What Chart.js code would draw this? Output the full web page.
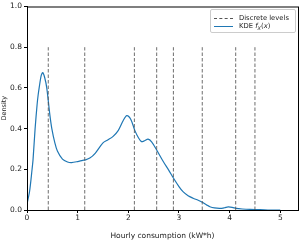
<!DOCTYPE html>
<html>
<head>
<meta charset="utf-8">
<script src="https://cdn.jsdelivr.net/npm/chart.js@4.4.1/dist/chart.umd.min.js"></script>
<style>
  html, body { margin: 0; padding: 0; background: #fff; }
  #wrap { position: relative; width: 299px; height: 241px; }
  #legend {
    position: absolute; left: 210px; top: 9px; width: 84px; height: 22px;
    border: 1px solid #ccc; border-radius: 2px; background: rgba(255,255,255,0.8);
    font-family: 'DejaVu Sans', sans-serif; font-size: 6.8px; color: #222;
  }
  .row { position: absolute; left: 3px; height: 8px; line-height: 8px; white-space: nowrap; }
  .sw { display: inline-block; width: 19px; height: 0; vertical-align: middle; margin-right: 6px; }
</style>
</head>
<body>
<div id="wrap">
  <canvas id="chart" width="299" height="241"></canvas>
  <div id="legend">
    <div class="row" style="top:4px"><span class="sw" style="border-top:1px dashed #555"></span>Discrete levels</div>
    <div class="row" style="top:12px"><span class="sw" style="border-top:1.3px solid #1f77b4"></span>KDE <i>f</i><sub style="font-size:5px"><i>X</i></sub>(<i>x</i>)</div>
  </div>
</div>
<script>
// KDE curve
const kdeX = [0, 0.05, 0.1, 0.12, 0.16, 0.2, 0.22, 0.24, 0.28, 0.31, 0.35, 0.39, 0.45, 0.49, 0.55, 0.6, 0.7,
  0.8, 0.88, 1.0, 1.1, 1.15, 1.24, 1.35, 1.5, 1.6, 1.7, 1.8, 1.9, 1.97, 2.05, 2.13, 2.2, 2.26, 2.32,
  2.39, 2.46, 2.56, 2.69, 2.8, 2.89, 3.0, 3.08, 3.18, 3.28, 3.38, 3.46, 3.55, 3.61, 3.7, 3.81, 3.9,
  3.97, 4.05, 4.13, 4.25, 4.4, 4.6, 4.8, 5.0];
const kdeY = [0.03, 0.09, 0.2, 0.25, 0.4, 0.52, 0.565, 0.6, 0.66, 0.675, 0.65, 0.6, 0.47, 0.4, 0.33, 0.29, 0.25,
  0.236, 0.233, 0.238, 0.244, 0.246, 0.255, 0.28, 0.33, 0.345, 0.362, 0.39, 0.44, 0.464, 0.445, 0.39, 0.355, 0.336, 0.34,
  0.348, 0.335, 0.295, 0.238, 0.195, 0.157, 0.115, 0.09, 0.07, 0.058, 0.048, 0.038, 0.024, 0.016, 0.01, 0.008, 0.011,
  0.015, 0.013, 0.008, 0.005, 0.003, 0.002, 0.0, 0.0];

// discrete levels (vertical dashed lines)
const levels = [0.42, 1.14, 2.12, 2.56, 2.89, 3.46, 4.12, 4.5];
const levelTop = 0.8;

const xTicks = [0, 1, 2, 3, 4, 5];
const yTicks = [0, 0.2, 0.4, 0.6, 0.8, 1.0];

const FONT = "'DejaVu Sans', sans-serif";

const datasets = levels.map(v => ({
  data: [{ x: v, y: 0 }, { x: v, y: levelTop }],
  borderColor: 'rgba(85,85,85,0.85)',
  borderWidth: 1,
  borderDash: [3.5, 2],
  pointRadius: 0,
  fill: false
}));

datasets.push({
  data: kdeX.map((x, i) => ({ x: x, y: kdeY[i] })),
  borderColor: '#1f77b4',
  borderWidth: 1.2,
  pointRadius: 0,
  tension: 0.3,
  fill: false
});

// frame around the plot area like matplotlib spines
const frame = {
  id: 'frame',
  afterDatasetsDraw(chart) {
    const { ctx, chartArea: a } = chart;
    ctx.save();
    ctx.strokeStyle = '#000';
    ctx.lineWidth = 1;
    ctx.strokeRect(a.left + 0.5, a.top + 0.5, a.right - a.left, a.bottom - a.top);
    ctx.restore();
  }
};

new Chart(document.getElementById('chart'), {
  type: 'line',
  data: { datasets: datasets },
  plugins: [frame],
  options: {
    responsive: false,
    animation: false,
    layout: { padding: { top: 6, right: 1, left: 0, bottom: 0 } },
    plugins: { legend: { display: false }, tooltip: { enabled: false } },
    scales: {
      x: {
        type: 'linear', min: 0, max: 5.35,
        afterBuildTicks: s => { s.ticks = xTicks.map(v => ({ value: v })); },
        afterFit: s => { s.height = 31; },
        grid: { drawOnChartArea: false, drawTicks: true, tickLength: 3, color: '#000' },
        border: { display: true, color: '#000' },
        ticks: { color: '#222', padding: 1, font: { family: FONT, size: 7.5 }, callback: v => String(v) },
        title: { display: true, text: 'Hourly consumption (kW*h)', color: '#222', padding: { top: 2, bottom: 0 }, font: { family: FONT, size: 7.5 } }
      },
      y: {
        type: 'linear', min: 0, max: 1,
        afterBuildTicks: s => { s.ticks = yTicks.map(v => ({ value: v })); },
        afterFit: s => { s.width = 27; },
        grid: { drawOnChartArea: false, drawTicks: true, tickLength: 3, color: '#000' },
        border: { display: true, color: '#000' },
        ticks: { color: '#222', padding: 2, font: { family: FONT, size: 7.5 }, callback: v => v.toFixed(1) },
        title: { display: true, text: 'Density', color: '#222', padding: { top: 0, bottom: 0 }, font: { family: FONT, size: 6.5 } }
      }
    }
  }
});
</script>
</body>
</html>
